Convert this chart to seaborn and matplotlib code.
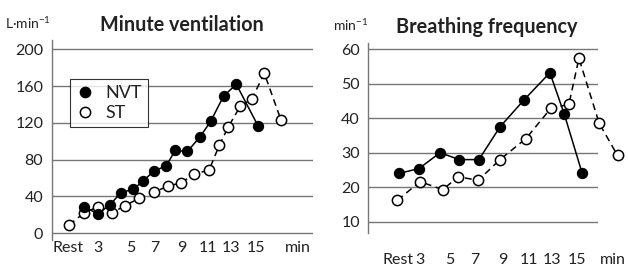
import numpy as np
import pandas as pd
import matplotlib.pyplot as plt
import matplotlib.transforms as mtransforms
from matplotlib.lines import Line2D
import seaborn as sns

# Minute ventilation (L/min) vs time (min)
ve_nvt_time = [1.97, 2.98, 3.91, 4.71, 5.66, 6.42, 7.23, 8.13, 8.81, 9.74, 10.7, 11.5, 12.46, 13.42, 15.05]
ve_nvt = [29, 21, 31, 44, 48, 57, 68, 73, 90, 89, 105, 122, 149, 162, 117]
ve_st_time = [0.81, 1.94, 3.02, 4.03, 5.04, 6.09, 7.23, 8.26, 9.26, 10.25, 11.38, 12.15, 12.83, 13.72, 14.6, 15.53, 16.79]
ve_st = [9, 22, 29, 22, 30, 38, 45, 51, 55, 64, 69, 96, 116, 138, 146, 174, 123]

# Breathing frequency (1/min) vs time (min)
bf_nvt_time = [1.40, 2.92, 4.53, 6.0, 7.5, 9.11, 10.94, 12.92, 14.02, 15.39]
bf_nvt = [24.0, 25.4, 30.0, 28.0, 28.0, 37.5, 45.3, 53.2, 41.2, 24.0]
bf_st_time = [1.27, 3.0, 4.73, 5.92, 7.45, 9.11, 11.09, 13.0, 14.37, 15.14, 16.69, 18.09]
bf_st = [16.2, 21.6, 19.3, 23.0, 22.0, 28.0, 34.1, 42.9, 44.0, 57.4, 38.5, 29.2]

x_labels = ["Rest", "3", "5", "7", "9", "11", "13", "15", "min"]
ve_xpos = [0.77, 2.96, 5.43, 7.3, 9.34, 11.3, 13.0, 14.92, 18.08]
bf_xpos = [1.32, 3.0, 5.29, 7.2, 9.3, 11.3, 13.06, 14.98, 17.7]
ve_yticks = [0, 40, 80, 120, 160, 200]
bf_yticks = [10, 20, 30, 40, 50, 60]

sns.set_style("white")
plt.rcParams['font.family'] = ['Lato', 'DejaVu Sans']
plt.rcParams['mathtext.default'] = 'regular'

fig = plt.figure(figsize=(6.28, 2.66), dpi=100)
ax1 = fig.add_axes([0.0823, 0.0977, 0.4161, 0.752])
ax2 = fig.add_axes([0.5865, 0.124, 0.3658, 0.714])

gray = '#767676'
txt = '#222222'


def draw(ax, t_nvt, v_nvt, t_st, v_st):
    d1 = pd.DataFrame({'t': t_nvt, 'v': v_nvt})
    d2 = pd.DataFrame({'t': t_st, 'v': v_st})
    sns.lineplot(data=d2, x='t', y='v', ax=ax, color='black', lw=1.1,
                 linestyle=(0, (4.5, 3)), marker='o', markersize=7.4,
                 markerfacecolor='white', markeredgecolor='black',
                 markeredgewidth=1.1, clip_on=False, zorder=3)
    sns.lineplot(data=d1, x='t', y='v', ax=ax, color='black', lw=1.1,
                 marker='o', markersize=7.4, markerfacecolor='black',
                 markeredgecolor='black', clip_on=False, zorder=4)
    ax.set_xlabel("")
    ax.set_ylabel("")
    ax.set_xticks([])
    for s in ['top', 'right', 'bottom']:
        ax.spines[s].set_visible(False)
    ax.spines['left'].set_color(gray)
    ax.spines['left'].set_linewidth(1)
    ax.yaxis.grid(True, color=gray, lw=1)
    ax.set_axisbelow(True)
    ax.tick_params(axis='y', length=4, width=1, color=gray, labelsize=11.5,
                   labelcolor=txt, pad=2)


draw(ax1, ve_nvt_time, ve_nvt, ve_st_time, ve_st)
ax1.set_xlim(-0.49, 19.2)
ax1.set_ylim(-7.3, 210.1)
ax1.set_yticks(ve_yticks)

draw(ax2, bf_nvt_time, bf_nvt, bf_st_time, bf_st)
ax2.set_xlim(-0.95, 16.6)
ax2.set_ylim(6.7, 61.8)
ax2.set_yticks(bf_yticks)

# x labels
tr1 = mtransforms.blended_transform_factory(ax1.transData, ax1.transAxes)
for xp, lab in zip(ve_xpos, x_labels):
    ax1.text(xp, -0.04, lab, transform=tr1, ha='center', va='center',
             fontsize=11.5, color=txt)
tr2 = mtransforms.blended_transform_factory(ax2.transData, ax2.transAxes)
for xp, lab in zip(bf_xpos, x_labels):
    ax2.text(xp, -0.142, lab, transform=tr2, ha='center', va='center',
             fontsize=11.5, color=txt)

# legend
handles = [Line2D([], [], ls='none', marker='o', ms=7.4, mfc='black', mec='black'),
           Line2D([], [], ls='none', marker='o', ms=7.4, mfc='white', mec='black', mew=1.1)]
leg = ax1.legend(handles, ["NVT", "ST"], loc='upper left', bbox_to_anchor=(0.07, 0.805),
                 borderaxespad=0, fontsize=13, frameon=True, fancybox=False,
                 handlelength=1.0, handletextpad=0.6, labelspacing=0.2, borderpad=0.35)
leg.get_frame().set_edgecolor('black')
leg.get_frame().set_linewidth(0.8)
for t in leg.get_texts():
    t.set_color(txt)

# titles and units
fig.text(182 / 628, 1 - 25 / 266, "Minute ventilation", ha='center', va='center',
         fontsize=14.2, fontweight='bold', color=txt)
fig.text(487 / 628, 1 - 27 / 266, "Breathing frequency", ha='center', va='center',
         fontsize=14.3, fontweight='bold', color=txt)
fig.text(5 / 628, 1 - 23 / 266, "L·min$^{-1}$", ha='left', va='center', fontsize=10, color=txt)
fig.text(333 / 628, 1 - 25 / 266, "min$^{-1}$", ha='left', va='center', fontsize=10, color=txt)

fig.savefig("out.png", dpi=100)
